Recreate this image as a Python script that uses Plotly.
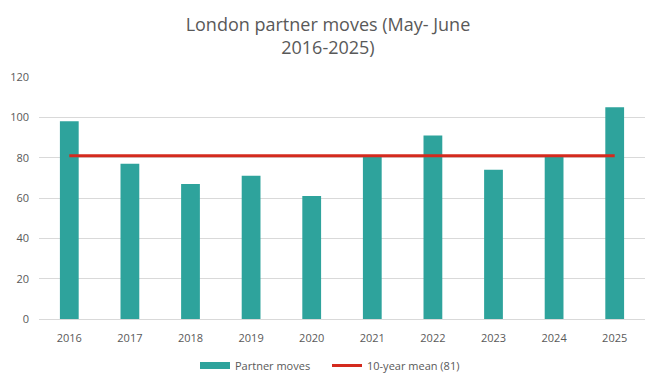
import plotly.graph_objects as go

years = ["2016", "2017", "2018", "2019", "2020", "2021", "2022", "2023", "2024", "2025"]
partner_moves = [98, 77, 67, 71, 61, 81, 91, 74, 81, 105]
mean_value = 81
mean_line = [mean_value] * len(years)

font_family = "Open Sans, Noto Sans, sans-serif"
grey = "#595959"
teal = "#2ea39c"

fig = go.Figure()
fig.add_trace(go.Bar(
    x=years, y=partner_moves, name="Partner moves", showlegend=False,
    marker=dict(color=teal, line=dict(width=0)),
))
# legend entry drawn as a wide teal swatch (no data)
fig.add_trace(go.Scatter(
    x=[None], y=[None], name="Partner moves", mode="lines",
    line=dict(color=teal, width=7), legend="legend",
))
fig.add_trace(go.Scatter(
    x=years, y=mean_line, name="10-year mean (81)", mode="lines",
    line=dict(color="#d42a1e", width=3), legend="legend2",
))

legend_common = dict(
    orientation="h", xanchor="left", xref="container",
    yanchor="middle", yref="container", y=28.5 / 386,
    font=dict(size=11, color=grey), bgcolor="rgba(0,0,0,0)",
)

fig.update_layout(
    width=657, height=386,
    margin=dict(l=31, r=20, t=69, b=75, autoexpand=False),
    paper_bgcolor="white", plot_bgcolor="white",
    title=dict(
        text="London partner moves (May- June<br>2016-2025)",
        x=0.487, xanchor="center", xref="container",
        y=1 - 23 / 386, yanchor="middle", yref="container",
        font=dict(family=font_family, size=18, color=grey),
    ),
    bargap=0.69,
    font=dict(family=font_family, size=11, color=grey),
    xaxis=dict(
        type="category", showgrid=False, showline=True, automargin=False,
        linecolor="#d9d9d9", linewidth=1, ticks="", ticklabelstandoff=9,
        tickfont=dict(size=11, color=grey),
    ),
    yaxis=dict(
        range=[0, 120], dtick=20, showgrid=True, gridcolor="#d9d9d9",
        gridwidth=1, zeroline=False, showline=False, ticks="", automargin=False,
        ticklabelstandoff=9,
        tickfont=dict(size=11, color=grey),
    ),
    legend=dict(x=187 / 657, **legend_common),
    legend2=dict(x=319 / 657, **legend_common),
    showlegend=True,
)

fig.write_html("out.html")
